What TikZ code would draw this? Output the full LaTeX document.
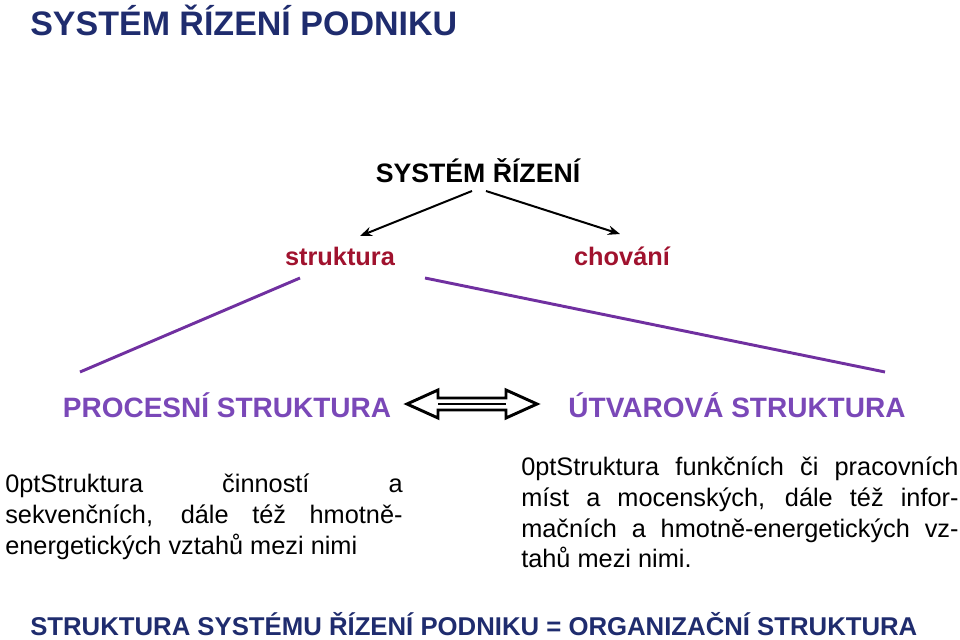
\documentclass[tikz,border=0pt]{standalone}
\usetikzlibrary{arrows.meta}
\usepackage{fontspec}
\setmainfont{Liberation Sans}
\definecolor{navy}{HTML}{1F2C6E}
\definecolor{crim}{HTML}{A0122E}
\definecolor{purp}{HTML}{7030A0}
\definecolor{lpurp}{HTML}{7A48B8}
\begin{document}
\begin{tikzpicture}[x=0.75pt,y=-0.75pt,
  title/.style={font=\bfseries\fontsize{25.5}{29}\selectfont,text=navy,inner sep=0pt},
  head/.style={font=\bfseries\fontsize{19}{22}\selectfont,inner sep=0pt},
  para/.style={font=\fontsize{19}{23}\selectfont\hyphenpenalty=10000\exhyphenpenalty=10000,inner sep=0pt,align=justify,anchor=north west},
  conn/.style={line width=1.5pt,-{Stealth[length=9pt,width=7pt]}},
  pl/.style={purp,line width=2.2pt}]
\useasboundingbox (0,0) rectangle (960,639);
\node[title,anchor=west] (t) at (30,20) {SYSTÉM ŘÍZENÍ PODNIKU};
\node[head,font=\bfseries\fontsize{20}{24}\selectfont] (sr) at (478,171) {SYSTÉM ŘÍZENÍ};
\node[head,text=crim] (st) at (340,256) {struktura};
\node[head,text=crim] (ch) at (622,256) {chování};
\coordinate (a1) at (472,191); \coordinate (a2) at (486,191);
\draw[conn] (a1) -- (360,236) coordinate (e1);
\draw[conn] (a2) -- (620,234) coordinate (e2);
\coordinate (l1) at (80,372); \coordinate (l2) at (300,278);
\coordinate (r1) at (425,278); \coordinate (r2) at (885,372);
\draw[pl] (l1) -- (l2);
\draw[pl] (r1) -- (r2);
\node[head,text=lpurp,font=\bfseries\fontsize{21}{24}\selectfont] (ps) at (227,405) {PROCESNÍ STRUKTURA};
\node[head,text=lpurp,font=\bfseries\fontsize{21}{24}\selectfont] (us) at (737,405) {ÚTVAROVÁ STRUKTURA};
\draw[line width=2.2pt,fill=white,line join=miter]
 (407,404) -- (438,390) -- (438,398) -- (506,398) -- (506,390) -- (537,404)
 -- (506,418) -- (506,410) -- (438,410) -- (438,418) -- cycle;
\draw[line width=2.2pt] (438,404) -- (506,404);
\node[para,text width=298pt] (lp) at (5,474) {Struktura činností a sekvenčních, dále též hmotně-energetických vztahů mezi nimi};
\node[para,text width=328pt] (rp) at (521,457) {Struktura funkčních či pracovních míst a mocenských, dále též informačních a hmotně-energetických vztahů mezi nimi.};
\node[title,font=\bfseries\fontsize{19.3}{22}\selectfont,anchor=west] (b) at (30,624) {STRUKTURA SYSTÉMU ŘÍZENÍ PODNIKU = ORGANIZAČNÍ STRUKTURA};
\end{tikzpicture}
\end{document}
